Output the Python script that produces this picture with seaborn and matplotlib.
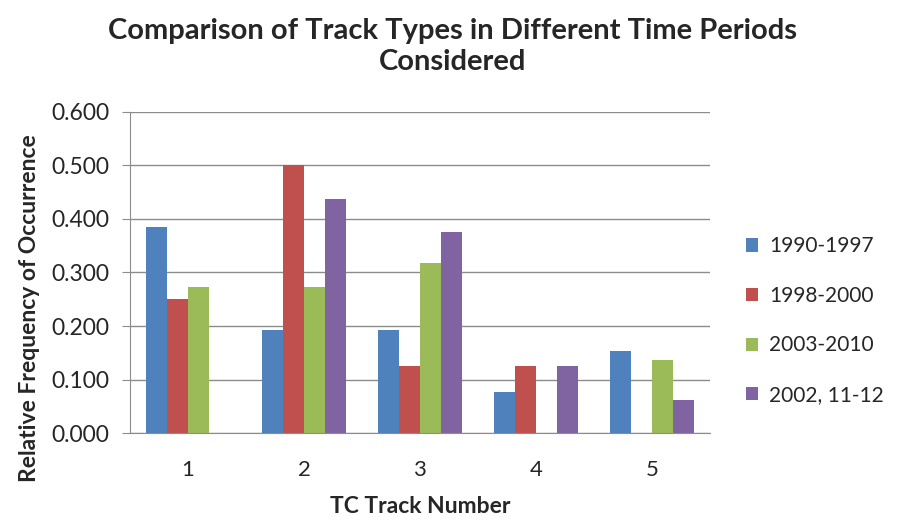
import matplotlib
matplotlib.use("Agg")
import matplotlib.pyplot as plt
import seaborn as sns
import pandas as pd
from matplotlib.ticker import FormatStrFormatter

tracks = ["1", "2", "3", "4", "5"]
periods = ["1990-1997", "1998-2000", "2003-2010", "2002, 11-12"]
p_1990_1997 = [0.385, 0.192, 0.192, 0.077, 0.154]
p_1998_2000 = [0.250, 0.500, 0.125, 0.125, 0.000]
p_2003_2010 = [0.273, 0.273, 0.318, 0.000, 0.136]
p_2002_1112 = [0.000, 0.4375, 0.375, 0.125, 0.0625]
colors = ["#4F81BD", "#C0504D", "#9BBB59", "#8064A2"]

rows = []
for name, vals in zip(periods, [p_1990_1997, p_1998_2000, p_2003_2010, p_2002_1112]):
    for t, v in zip(tracks, vals):
        rows.append({"track": t, "period": name, "freq": v})
df = pd.DataFrame(rows)

sns.set_style("white")
plt.rcParams["font.family"] = ["Lato", "DejaVu Sans"]

fig = plt.figure(figsize=(9.06, 5.2), dpi=100)
ax = fig.add_axes([0.1435, 0.167, 0.64, 0.618])

sns.barplot(data=df, x="track", y="freq", hue="period", palette=colors,
            width=0.727, ax=ax, saturation=1, edgecolor="none")

ax.set_ylim(0, 0.6)
ax.set_yticks([0, 0.1, 0.2, 0.3, 0.4, 0.5, 0.6])
ax.yaxis.set_major_formatter(FormatStrFormatter("%.3f"))
ax.yaxis.grid(True, color="#8c8c8c", linewidth=1)
ax.set_axisbelow(True)
ax.set_xlim(-0.5, 4.5)

for s in ["top", "right"]:
    ax.spines[s].set_visible(False)
ax.spines["left"].set_color("#8c8c8c")
ax.spines["bottom"].set_color("#8c8c8c")

ax.set_xticks([0, 1, 2, 3, 4])
ax.set_xticks([-0.5, 0.5, 1.5, 2.5, 3.5, 4.5], minor=True)
ax.tick_params(axis="x", which="major", length=0, labelsize=16, pad=19)
ax.tick_params(axis="x", which="minor", length=7, color="#8c8c8c", direction="out")
ax.tick_params(axis="y", length=6, color="#8c8c8c", direction="out", labelsize=16.5,
               left=True, pad=9)

ax.set_xlabel("TC Track Number", fontsize=16.5, fontweight="bold", labelpad=12)
ax.set_ylabel("Relative Frequency of Occurrence", fontsize=16.5, fontweight="bold")
ax.yaxis.set_label_coords(-0.155, 0.39)
fig.suptitle("Comparison of Track Types in Different Time Periods\nConsidered",
             x=0.5, y=0.965, fontsize=21, fontweight="bold", linespacing=1.25)

handles, labels = ax.get_legend_handles_labels()
ax.legend(handles, labels, loc="center left", bbox_to_anchor=(1.03, 0.35),
          frameon=False, fontsize=15, handlelength=0.6, handleheight=0.6,
          labelspacing=1.42, handletextpad=0.5)

fig.savefig("out.png", dpi=100, facecolor="white")
